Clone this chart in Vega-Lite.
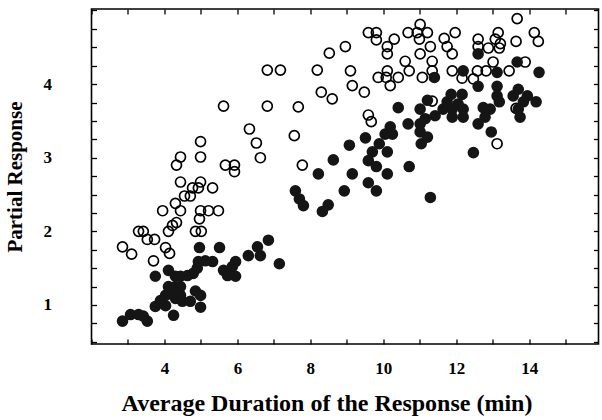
{
  "$schema": "https://vega.github.io/schema/vega-lite/v6.json",
  "width": 507,
  "height": 335,
  "autosize": {"type": "none"},
  "padding": {"left": 91.5, "top": 9, "right": 3.5, "bottom": 76},
  "background": "white",
  "config": {
    "view": {"stroke": "black", "strokeWidth": 1.6},
    "axis": {
      "domain": false,
      "grid": false,
      "tickColor": "black",
      "tickWidth": 1.3,
      "tickSize": 5,
      "offset": -5,
      "labelFont": "Liberation Serif",
      "labelFontWeight": "bold",
      "labelFontSize": 17,
      "labelColor": "black",
      "titleFont": "Liberation Serif",
      "titleFontWeight": "bold",
      "titleFontSize": 21,
      "titleColor": "black"
    }
  },
  "datasets": {
    "open": [
      {"x": 13.67, "y": 4.89}, {"x": 9.59, "y": 4.70}, {"x": 9.81, "y": 4.70}, {"x": 9.81, "y": 4.60},
      {"x": 10.30, "y": 4.61}, {"x": 10.11, "y": 4.51}, {"x": 10.11, "y": 4.41}, {"x": 10.68, "y": 4.70},
      {"x": 10.93, "y": 4.70}, {"x": 11.01, "y": 4.81}, {"x": 11.21, "y": 4.70}, {"x": 10.99, "y": 4.61},
      {"x": 11.29, "y": 4.51}, {"x": 11.01, "y": 4.41}, {"x": 11.67, "y": 4.62}, {"x": 11.97, "y": 4.70},
      {"x": 11.75, "y": 4.51}, {"x": 11.89, "y": 4.41}, {"x": 8.96, "y": 4.51}, {"x": 10.60, "y": 4.31},
      {"x": 10.71, "y": 4.18}, {"x": 11.34, "y": 4.31}, {"x": 11.34, "y": 4.18}, {"x": 11.07, "y": 4.09},
      {"x": 10.11, "y": 4.18}, {"x": 9.86, "y": 4.09}, {"x": 10.08, "y": 4.09}, {"x": 10.41, "y": 4.09},
      {"x": 10.19, "y": 3.98}, {"x": 9.10, "y": 4.18}, {"x": 9.15, "y": 3.98}, {"x": 9.48, "y": 3.89},
      {"x": 11.89, "y": 4.18}, {"x": 12.16, "y": 4.08}, {"x": 12.47, "y": 4.07}, {"x": 11.34, "y": 3.77},
      {"x": 9.59, "y": 3.58}, {"x": 9.67, "y": 3.49}, {"x": 13.15, "y": 4.70}, {"x": 12.60, "y": 4.61},
      {"x": 13.07, "y": 4.61}, {"x": 13.21, "y": 4.55}, {"x": 13.64, "y": 4.58}, {"x": 14.14, "y": 4.70},
      {"x": 14.25, "y": 4.58}, {"x": 12.60, "y": 4.51}, {"x": 12.88, "y": 4.49}, {"x": 13.18, "y": 4.49},
      {"x": 13.01, "y": 4.30}, {"x": 13.89, "y": 4.30}, {"x": 12.58, "y": 4.18}, {"x": 12.82, "y": 4.18},
      {"x": 13.45, "y": 4.18}, {"x": 13.64, "y": 3.67}, {"x": 13.12, "y": 3.19}, {"x": 8.52, "y": 4.42},
      {"x": 8.19, "y": 4.19}, {"x": 8.60, "y": 3.80}, {"x": 8.30, "y": 3.89}, {"x": 7.67, "y": 3.69},
      {"x": 6.82, "y": 4.19}, {"x": 7.18, "y": 4.19}, {"x": 5.62, "y": 3.70}, {"x": 6.82, "y": 3.70},
      {"x": 7.56, "y": 3.30}, {"x": 7.78, "y": 2.90}, {"x": 6.33, "y": 3.39}, {"x": 6.52, "y": 3.20},
      {"x": 6.63, "y": 3.00}, {"x": 4.99, "y": 3.22}, {"x": 4.99, "y": 3.01}, {"x": 4.44, "y": 3.01},
      {"x": 4.33, "y": 2.90}, {"x": 5.67, "y": 2.90}, {"x": 5.92, "y": 2.90}, {"x": 5.92, "y": 2.81},
      {"x": 4.44, "y": 2.67}, {"x": 4.99, "y": 2.67}, {"x": 4.77, "y": 2.59}, {"x": 4.93, "y": 2.59},
      {"x": 5.32, "y": 2.59}, {"x": 4.55, "y": 2.48}, {"x": 4.71, "y": 2.48}, {"x": 4.30, "y": 2.38},
      {"x": 3.95, "y": 2.28}, {"x": 4.44, "y": 2.28}, {"x": 4.99, "y": 2.28}, {"x": 5.21, "y": 2.28},
      {"x": 5.48, "y": 2.28}, {"x": 4.96, "y": 2.17}, {"x": 4.33, "y": 2.12}, {"x": 4.22, "y": 2.08},
      {"x": 4.11, "y": 2.00}, {"x": 3.29, "y": 2.00}, {"x": 3.42, "y": 2.00}, {"x": 3.53, "y": 1.89},
      {"x": 3.73, "y": 1.89}, {"x": 4.85, "y": 2.00}, {"x": 5.01, "y": 2.00}, {"x": 2.85, "y": 1.79},
      {"x": 3.10, "y": 1.69}, {"x": 4.03, "y": 1.78}, {"x": 4.14, "y": 1.70}, {"x": 3.70, "y": 1.60}
    ],
    "filled": [
      {"x": 2.85, "y": 0.78}, {"x": 3.07, "y": 0.87}, {"x": 3.29, "y": 0.87}, {"x": 3.53, "y": 0.78},
      {"x": 3.42, "y": 0.85}, {"x": 3.75, "y": 0.98}, {"x": 4.03, "y": 0.99}, {"x": 4.25, "y": 0.86},
      {"x": 3.89, "y": 1.06}, {"x": 4.03, "y": 1.13}, {"x": 4.11, "y": 1.25}, {"x": 4.30, "y": 1.25},
      {"x": 4.44, "y": 1.25}, {"x": 4.25, "y": 1.19}, {"x": 4.44, "y": 1.13}, {"x": 4.30, "y": 1.09},
      {"x": 4.49, "y": 1.05}, {"x": 4.71, "y": 1.05}, {"x": 4.85, "y": 1.19}, {"x": 4.99, "y": 1.13},
      {"x": 4.99, "y": 0.97}, {"x": 3.75, "y": 1.39}, {"x": 4.11, "y": 1.47}, {"x": 4.30, "y": 1.39},
      {"x": 4.44, "y": 1.39}, {"x": 4.63, "y": 1.40}, {"x": 4.79, "y": 1.43}, {"x": 4.90, "y": 1.50},
      {"x": 4.96, "y": 1.78}, {"x": 5.51, "y": 1.78}, {"x": 5.12, "y": 1.60}, {"x": 5.32, "y": 1.59},
      {"x": 4.93, "y": 1.59}, {"x": 5.62, "y": 1.47}, {"x": 5.86, "y": 1.52}, {"x": 5.95, "y": 1.59},
      {"x": 5.73, "y": 1.40}, {"x": 5.95, "y": 1.39}, {"x": 6.30, "y": 1.67}, {"x": 6.55, "y": 1.79},
      {"x": 6.63, "y": 1.67}, {"x": 6.85, "y": 1.88}, {"x": 7.15, "y": 1.56}, {"x": 7.59, "y": 2.55},
      {"x": 7.70, "y": 2.44}, {"x": 7.81, "y": 2.35}, {"x": 8.49, "y": 2.36}, {"x": 8.33, "y": 2.27},
      {"x": 8.93, "y": 2.55}, {"x": 9.07, "y": 3.17}, {"x": 8.63, "y": 2.97}, {"x": 8.22, "y": 2.78},
      {"x": 9.15, "y": 2.78}, {"x": 9.51, "y": 3.27}, {"x": 9.89, "y": 3.19}, {"x": 9.70, "y": 3.08},
      {"x": 10.11, "y": 3.08}, {"x": 9.59, "y": 2.96}, {"x": 9.81, "y": 2.88}, {"x": 10.11, "y": 2.78},
      {"x": 9.59, "y": 2.66}, {"x": 9.81, "y": 2.55}, {"x": 10.71, "y": 2.88}, {"x": 11.04, "y": 3.19},
      {"x": 12.47, "y": 3.07}, {"x": 11.29, "y": 2.46}, {"x": 10.05, "y": 3.32}, {"x": 10.25, "y": 3.32},
      {"x": 10.19, "y": 3.42}, {"x": 10.68, "y": 3.46}, {"x": 11.01, "y": 3.46}, {"x": 11.01, "y": 3.35},
      {"x": 11.21, "y": 3.28}, {"x": 10.41, "y": 3.68}, {"x": 11.01, "y": 3.66}, {"x": 11.64, "y": 3.66},
      {"x": 11.89, "y": 3.66}, {"x": 12.19, "y": 3.66}, {"x": 11.42, "y": 3.57}, {"x": 11.15, "y": 3.53},
      {"x": 11.89, "y": 3.55}, {"x": 12.19, "y": 3.55}, {"x": 11.21, "y": 3.78}, {"x": 11.75, "y": 3.76},
      {"x": 12.05, "y": 3.73}, {"x": 11.86, "y": 3.86}, {"x": 12.16, "y": 3.86}, {"x": 11.40, "y": 4.09},
      {"x": 12.19, "y": 4.18}, {"x": 12.60, "y": 4.41}, {"x": 13.67, "y": 4.30}, {"x": 14.27, "y": 4.16},
      {"x": 12.60, "y": 3.97}, {"x": 13.12, "y": 4.16}, {"x": 13.12, "y": 3.97}, {"x": 13.12, "y": 3.84},
      {"x": 13.70, "y": 3.93}, {"x": 13.56, "y": 3.84}, {"x": 13.95, "y": 3.84}, {"x": 13.84, "y": 3.76},
      {"x": 14.19, "y": 3.76}, {"x": 13.18, "y": 3.76}, {"x": 12.74, "y": 3.68}, {"x": 12.93, "y": 3.66},
      {"x": 12.79, "y": 3.55}, {"x": 13.70, "y": 3.66}, {"x": 13.75, "y": 3.55}, {"x": 12.60, "y": 3.46},
      {"x": 12.96, "y": 3.35}
    ]
  },
  "layer": [
    {
      "data": {"name": "open"},
      "mark": {"type": "point", "shape": "circle", "filled": false, "stroke": "black", "strokeWidth": 1.7, "size": 100, "opacity": 1},
      "encoding": {
        "x": {
          "field": "x", "type": "quantitative",
          "scale": {"domain": [2, 15.9], "nice": false, "zero": false},
          "axis": {
            "orient": "bottom",
            "title": "Average Duration of the Response (min)",
            "values": [2, 3, 4, 5, 6, 7, 8, 9, 10, 11, 12, 13, 14, 15],
            "labelExpr": "datum.value % 2 == 0 && datum.value > 2 ? format(datum.value, 'd') : ''",
            "labelPadding": 16,
            "labelFlush": false,
            "titleFontSize": 24,
            "titleX": 235,
            "titleY": 71,
            "titleAlign": "center",
            "titleBaseline": "alphabetic"
          }
        },
        "y": {
          "field": "y", "type": "quantitative",
          "scale": {"domain": [0.47, 5.02], "nice": false, "zero": false},
          "axis": {
            "orient": "left",
            "title": "Partial Response",
            "values": [0.5, 0.75, 1, 1.25, 1.5, 1.75, 2, 2.25, 2.5, 2.75, 3, 3.25, 3.5, 3.75, 4, 4.25, 4.5, 4.75, 5],
            "labelExpr": "datum.value % 1 == 0 && datum.value < 5 ? format(datum.value, 'd') : ''",
            "labelPadding": 40,
            "labelFlush": false,
            "titlePadding": 18
          }
        }
      }
    },
    {
      "data": {"name": "filled"},
      "mark": {"type": "point", "shape": "circle", "filled": true, "fill": "#151515", "strokeWidth": 0, "size": 135, "opacity": 1},
      "encoding": {
        "x": {
          "field": "x", "type": "quantitative",
          "scale": {"domain": [2, 15.9], "nice": false, "zero": false},
          "axis": {
            "orient": "top",
            "title": null,
            "values": [2, 3, 4, 5, 6, 7, 8, 9, 10, 11, 12, 13, 14, 15],
            "labels": false
          }
        },
        "y": {
          "field": "y", "type": "quantitative",
          "scale": {"domain": [0.47, 5.02], "nice": false, "zero": false},
          "axis": {
            "orient": "right",
            "title": null,
            "values": [0.5, 0.75, 1, 1.25, 1.5, 1.75, 2, 2.25, 2.5, 2.75, 3, 3.25, 3.5, 3.75, 4, 4.25, 4.5, 4.75, 5],
            "labels": false
          }
        }
      }
    }
  ],
  "resolve": {"axis": {"x": "independent", "y": "independent"}}
}
